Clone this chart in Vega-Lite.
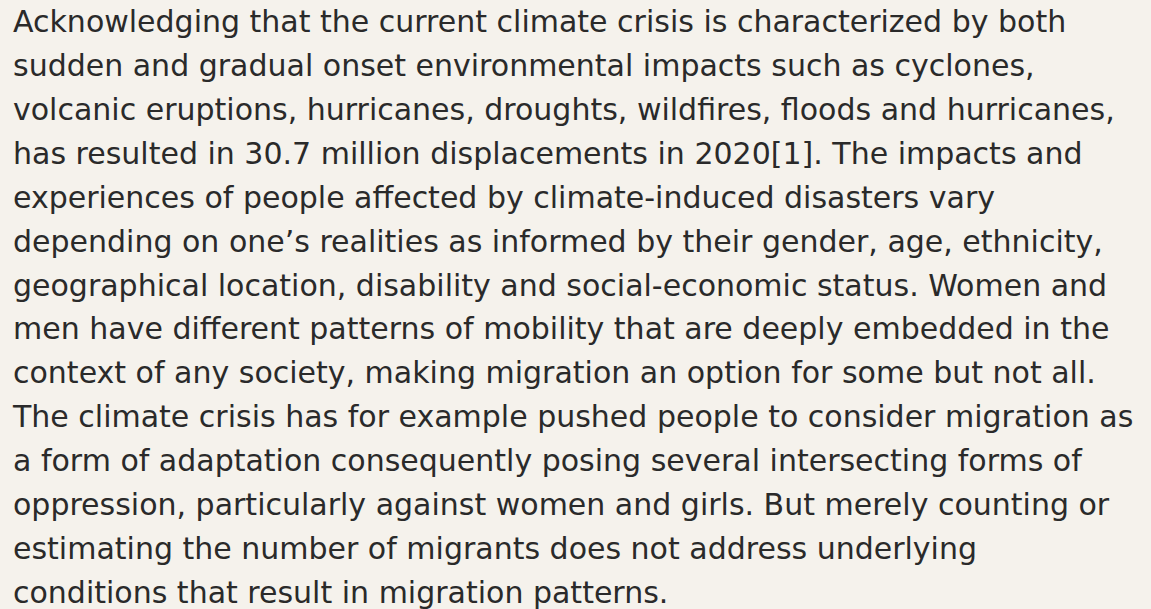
{
  "$schema": "https://vega.github.io/schema/vega-lite/v6.json",
  "width": 1151,
  "height": 609,
  "autosize": {"type": "none"},
  "padding": 0,
  "background": "#F5F2EC",
  "view": {"stroke": null},
  "data": {
    "values": [
      {"line": 0, "col": 0, "text": "Acknowledging that the current climate crisis is characterized by both"},
      {"line": 1, "col": 0, "text": "sudden and gradual onset environmental impacts such as cyclones,"},
      {"line": 2, "col": 0, "text": "volcanic eruptions, hurricanes, droughts, wildfires, floods and hurricanes,"},
      {"line": 3, "col": 0, "text": "has resulted in 30.7 million displacements in 2020[1]. The impacts and"},
      {"line": 4, "col": 0, "text": "experiences of people affected by climate-induced disasters vary"},
      {"line": 5, "col": 0, "text": "depending on one’s realities as informed by their gender, age, ethnicity,"},
      {"line": 6, "col": 0, "text": "geographical location, disability and social-economic status. Women and"},
      {"line": 7, "col": 0, "text": "men have different patterns of mobility that are deeply embedded in the"},
      {"line": 8, "col": 0, "text": "context of any society, making migration an option for some but not all."},
      {"line": 9, "col": 0, "text": "The climate crisis has for example pushed people to consider migration as"},
      {"line": 10, "col": 0, "text": "a form of adaptation consequently posing several intersecting forms of"},
      {"line": 11, "col": 0, "text": "oppression, particularly against women and girls. But merely counting or"},
      {"line": 12, "col": 0, "text": "estimating the number of migrants does not address underlying"},
      {"line": 13, "col": 0, "text": "conditions that result in migration patterns."}
    ]
  },
  "mark": {"type": "text", "align": "left", "baseline": "alphabetic", "font": "DejaVu Sans", "fontSize": 30, "color": "#2A2A2A"},
  "encoding": {
    "x": {"field": "col", "type": "quantitative", "scale": {"domain": [0, 1], "range": [13, 1139]}, "axis": null},
    "y": {"field": "line", "type": "quantitative", "scale": {"domain": [0, 13], "range": [32, 603]}, "axis": null},
    "text": {"field": "text"}
  }
}
